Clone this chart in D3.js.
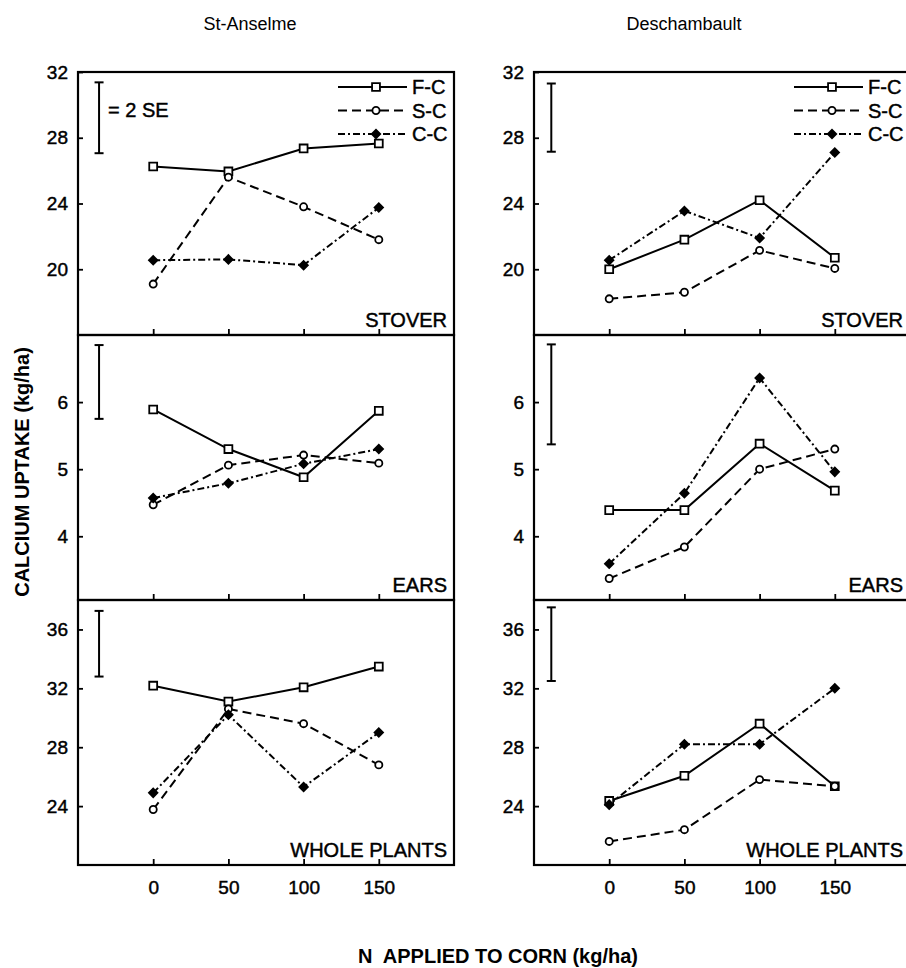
<!DOCTYPE html>
<html>
<head>
<meta charset="utf-8">
<script src="https://cdn.jsdelivr.net/npm/d3@7"></script>
<style>
  body { margin: 0; background: #fff; }
  svg text { font-family: 'Liberation Sans', Arial, sans-serif; fill: #000; }
  svg text.heavy { stroke: #000; stroke-width: 0.45px; }
</style>
</head>
<body>
<div id="chart"></div>
<script>
'use strict';

// N rates (kg/ha)
var nRates = [0, 50, 100, 150];
var sites = ['St-Anselme', 'Deschambault'];
var parts = ['STOVER', 'EARS', 'WHOLE PLANTS'];
var seriesNames = ['F-C', 'S-C', 'C-C'];

// each panel: [F-C, S-C, C-C] values at 0, 50, 100, 150
var stAnselmeStover = [[26.25, 25.95, 27.35, 27.65], [19.1, 25.6, 23.8, 21.8], [20.55, 20.6, 20.25, 23.75]];
var stAnselmeEars = [[5.89, 5.30, 4.88, 5.87], [4.47, 5.06, 5.21, 5.09], [4.57, 4.79, 5.08, 5.30]];
var stAnselmeWhole = [[32.18, 31.1, 32.07, 33.48], [23.77, 30.6, 29.6, 26.8], [24.9, 30.2, 25.3, 29.0]];
var deschStover = [[20.0, 21.8, 24.2, 20.7], [18.2, 18.6, 21.15, 20.05], [20.55, 23.55, 21.9, 27.1]];
var deschEars = [[4.39, 4.39, 5.38, 4.68], [3.37, 3.84, 5.0, 5.30], [3.59, 4.64, 6.36, 4.96]];
var deschWhole = [[24.35, 26.06, 29.6, 25.35], [21.6, 22.4, 25.8, 25.35], [24.1, 28.2, 28.2, 32.0]];

// 2 SE bars (low, high), per site then part
var stAnselmeSE = [[27.06, 31.37], [5.75, 6.85], [32.8, 37.26]];
var deschSE = [[27.15, 31.3], [5.37, 6.86], [32.5, 37.5]];

var yDomains = [[16, 32], [3.05, 7], [20, 38]];
var yTicks = [[20, 24, 28, 32], [4, 5, 6], [24, 28, 32, 36]];

var panelValues = [[stAnselmeStover, stAnselmeEars, stAnselmeWhole], [deschStover, deschEars, deschWhole]];
var panelSE = [stAnselmeSE, deschSE];

var width = 906, height = 968;
var panelLeft = [78, 534], panelWidth = 376;
var panelTop = [72, 335, 600], panelBottom = [335, 600, 865];
var seX = [-36, -38.5];

var dashes = [null, '9,5', '7,3,2,3'];
var symbols = [d3.symbol(d3.symbolSquare, 62), d3.symbol(d3.symbolCircle, 40), d3.symbol(d3.symbolSquare, 36)];

var svg = d3.select('#chart')
            .append('svg')
            .attr('width', width)
            .attr('height', height);

var drawMarker = function(sel, k, px, py) {
  var m = sel.append('path')
             .attr('d', symbols[k]())
             .attr('stroke', '#000')
             .attr('stroke-width', 1.8)
             .attr('fill', k === 2 ? '#000' : '#fff');
  if (k === 2) {
    m.attr('transform', 'translate(' + px + ',' + py + ') rotate(45)');
  } else {
    m.attr('transform', 'translate(' + px + ',' + py + ')');
  }
};

sites.forEach(function(site, si) {
  var left = panelLeft[si];
  var x = d3.scaleLinear().domain([-50, 200]).range([left, left + panelWidth]);

  svg.append('text')
     .attr('x', si === 0 ? 250 : 684)
     .attr('y', 30)
     .attr('text-anchor', 'middle')
     .style('font-size', '18px')
     .text(site);

  parts.forEach(function(part, pi) {
    var y = d3.scaleLinear().domain(yDomains[pi]).range([panelBottom[pi], panelTop[pi]]);
    var values = panelValues[si][pi];

    // y axis, ticks inward
    var ya = svg.append('g')
                .attr('transform', 'translate(' + left + ',0)')
                .call(d3.axisLeft(y).tickValues(yTicks[pi]).tickSize(-5).tickPadding(10)
                        .tickFormat(d3.format('d')));
    ya.select('.domain').remove();
    ya.selectAll('line').attr('stroke', '#000').attr('stroke-width', 1.8);
    ya.selectAll('text').classed('heavy', true).style('font-size', '19px').attr('font-family', null);

    // x axis, ticks pointing up
    var xa = svg.append('g')
                .attr('transform', 'translate(0,' + panelBottom[pi] + ')')
                .call(d3.axisBottom(x).tickValues(nRates).tickSize(-6).tickPadding(16)
                        .tickFormat(pi === 2 ? d3.format('d') : ''));
    xa.select('.domain').remove();
    xa.selectAll('line').attr('stroke', '#000').attr('stroke-width', 1.8);
    xa.selectAll('text').classed('heavy', true).style('font-size', '19px').attr('font-family', null);

    // frame
    svg.append('rect')
       .attr('x', left)
       .attr('y', panelTop[pi])
       .attr('width', panelWidth)
       .attr('height', panelBottom[pi] - panelTop[pi])
       .attr('fill', 'none')
       .attr('stroke', '#000')
       .attr('stroke-width', 2.2);

    // 2 SE bar
    var se = panelSE[si][pi];
    var bx = x(seX[si]);
    svg.append('line')
       .attr('x1', bx).attr('x2', bx)
       .attr('y1', y(se[0])).attr('y2', y(se[1]))
       .attr('stroke', '#000').attr('stroke-width', 2);
    se.forEach(function(v) {
      svg.append('line')
         .attr('x1', bx - 4.5).attr('x2', bx + 4.5)
         .attr('y1', y(v)).attr('y2', y(v))
         .attr('stroke', '#000').attr('stroke-width', 2);
    });

    var line = d3.line()
                 .x(function(d, i) { return x(nRates[i]); })
                 .y(function(d) { return y(d); });

    values.forEach(function(vals, k) {
      svg.append('path')
         .datum(vals)
         .attr('d', line)
         .attr('fill', 'none')
         .attr('stroke', '#000')
         .attr('stroke-width', 2)
         .attr('stroke-dasharray', dashes[k]);
    });

    values.forEach(function(vals, k) {
      var gm = svg.append('g');
      vals.forEach(function(v, i) {
        drawMarker(gm, k, x(nRates[i]), y(v));
      });
    });

    // part label
    svg.append('text')
       .attr('class', 'heavy')
       .attr('x', left + panelWidth - 7)
       .attr('y', panelBottom[pi] - 8)
       .attr('text-anchor', 'end')
       .style('font-size', '20px')
       .text(part);

    // legend in stover panels
    if (pi === 0) {
      var right = left + panelWidth;
      seriesNames.forEach(function(name, k) {
        var ly = panelTop[0] + 15 + k * 23.5;
        svg.append('line')
           .attr('x1', right - 116).attr('x2', right - 47)
           .attr('y1', ly).attr('y2', ly)
           .attr('stroke', '#000')
           .attr('stroke-width', 2)
           .attr('stroke-dasharray', dashes[k]);
        drawMarker(svg, k, right - 78, ly);
        svg.append('text')
           .attr('class', 'heavy')
           .attr('x', right - 42)
           .attr('y', ly + 7)
           .style('font-size', '20px')
           .text(name);
      });
    }
  });
});

// SE key
svg.append('text')
   .attr('class', 'heavy')
   .attr('x', 108)
   .attr('y', 117)
   .style('font-size', '20px')
   .text('= 2 SE');

// axis titles
svg.append('text')
   .attr('transform', 'translate(29,472) rotate(-90)')
   .attr('text-anchor', 'middle')
   .style('font-size', '20px')
   .style('font-weight', 'bold')
   .text('CALCIUM UPTAKE (kg/ha)');

svg.append('text')
   .attr('x', 358)
   .attr('y', 963)
   .style('font-size', '20px')
   .style('font-weight', 'bold')
   .style('white-space', 'pre')
   .text('N  APPLIED TO CORN (kg/ha)');
</script>
</body>
</html>
